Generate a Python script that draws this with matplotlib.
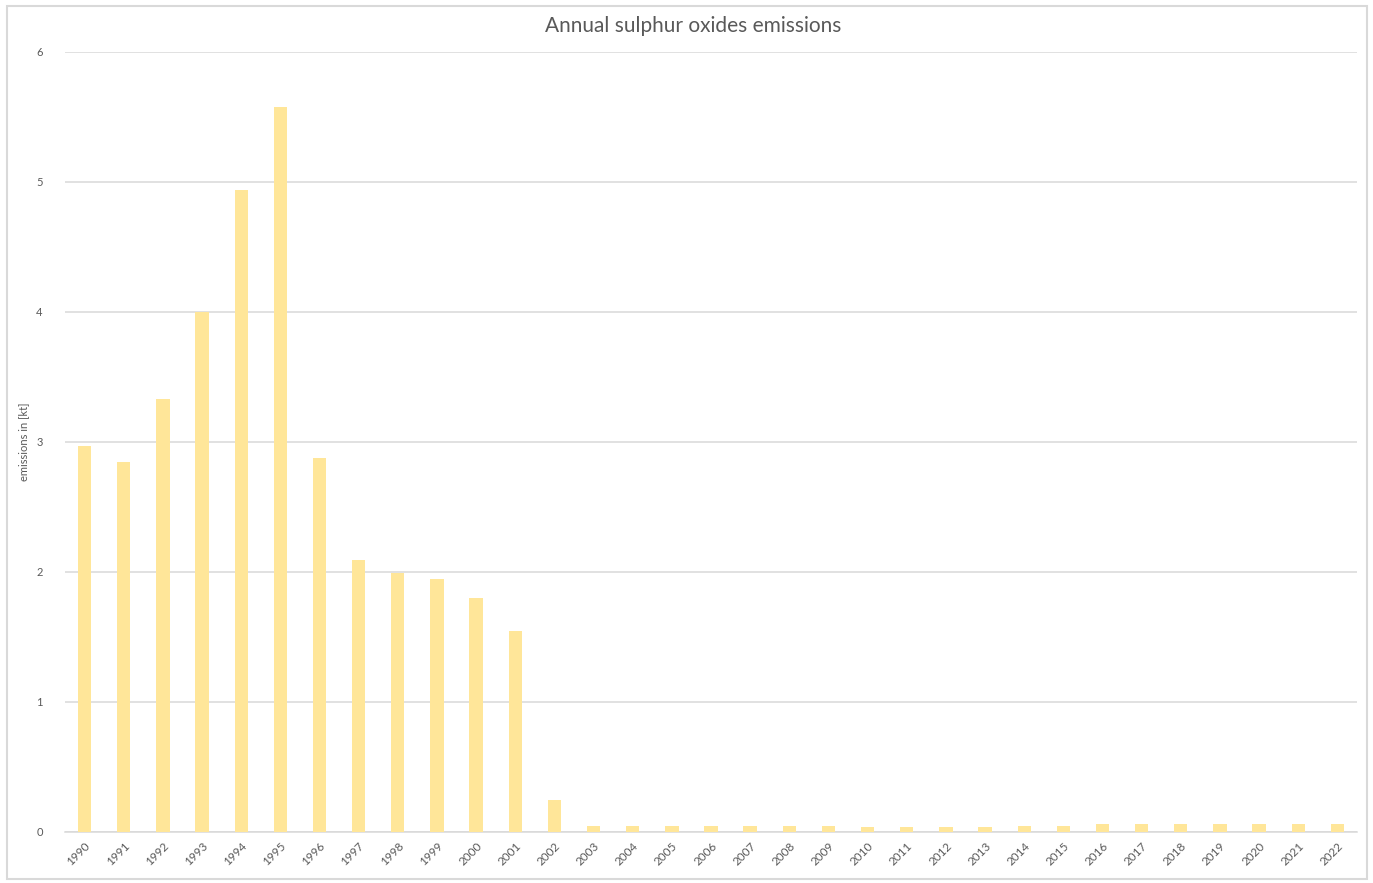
import matplotlib
matplotlib.use("Agg")
import matplotlib.pyplot as plt
from matplotlib.patches import Rectangle

years = [str(y) for y in range(1990, 2023)]
emissions = [2.97, 2.85, 3.33, 4.00, 4.94, 5.58, 2.88, 2.09, 1.99, 1.95, 1.80, 1.55,
             0.25, 0.05, 0.05, 0.05, 0.05, 0.05, 0.05, 0.05, 0.035, 0.035, 0.035, 0.035,
             0.05, 0.05, 0.06, 0.06, 0.06, 0.06, 0.06, 0.06, 0.06]
yticks = [0, 1, 2, 3, 4, 5, 6]

plt.rcParams['font.family'] = ['Lato', 'DejaVu Sans']
W, H = 1373, 883
fig = plt.figure(figsize=(W / 100, H / 100), dpi=100)
fig.patches.append(Rectangle((7 / W, 0.004), 1360 / W, (H - 6 - 3.5) / H, transform=fig.transFigure,
                             fill=False, edgecolor='#D9D9D9', linewidth=1.5))

ax = fig.add_axes([65 / W, 51 / H, (1357 - 65) / W, 780 / H])
x = list(range(len(years)))
ax.bar(x, emissions, width=0.34, color='#FFE699', zorder=3)
ax.set_xlim(-0.5, len(years) - 0.5)
ax.set_ylim(0, 6)
ax.set_yticks(yticks)
ax.set_yticklabels([str(t) for t in yticks])
ax.yaxis.grid(True, color='#D9D9D9', linewidth=1.1, zorder=0)
for s in ['top', 'right', 'left']:
    ax.spines[s].set_visible(False)
ax.spines['bottom'].set_color('#D9D9D9')
ax.spines['bottom'].set_linewidth(1.1)
ax.tick_params(axis='both', length=0, colors='#595959', labelsize=8)
ax.tick_params(axis='y', pad=16)
ax.set_xticks(x)
ax.set_xticklabels(years, rotation=45, ha='right', rotation_mode='anchor', fontsize=8.5, color='#595959')
ax.tick_params(axis='x', pad=6)
ax.set_ylabel('emissions in [kt]', fontsize=8, color='#595959', labelpad=5)
fig.text(693 / W, 1 - 26 / H, 'Annual sulphur oxides emissions', ha='center', va='center',
         fontsize=15, color='#595959')

fig.savefig('out.png', dpi=100)
